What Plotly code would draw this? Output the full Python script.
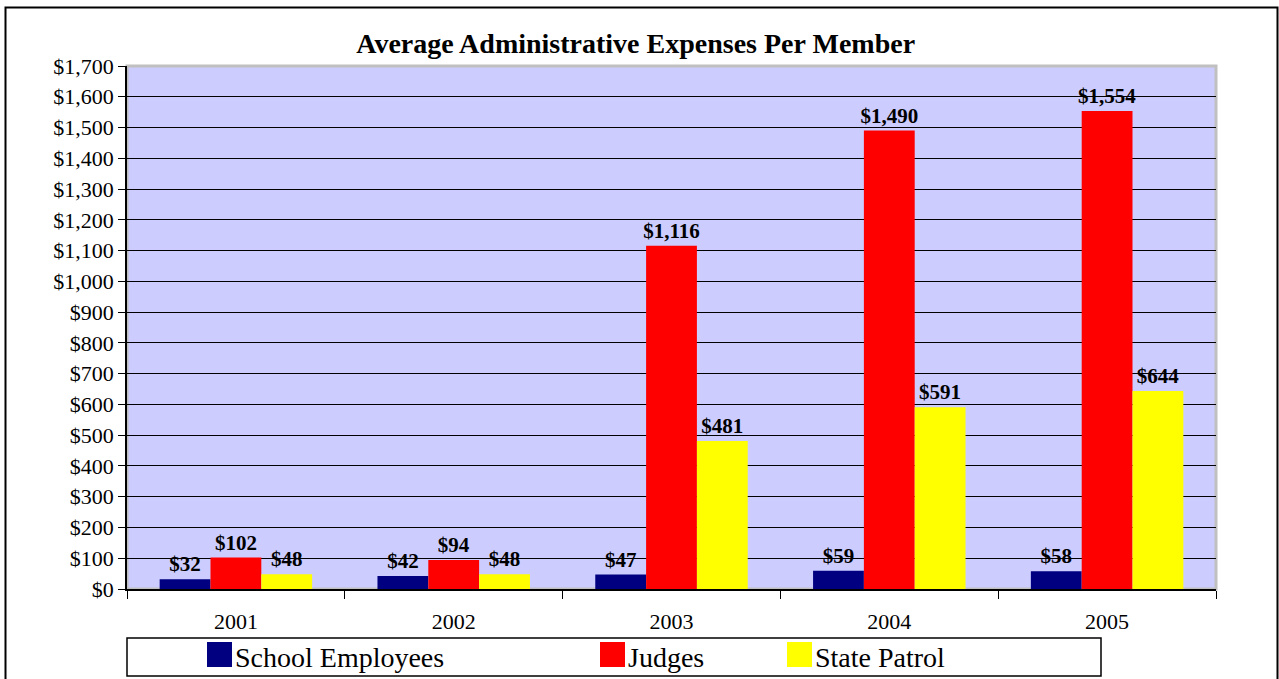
import plotly.graph_objects as go

years = ["2001", "2002", "2003", "2004", "2005"]
school_employees = [32, 42, 47, 59, 58]
judges = [102, 94, 1116, 1490, 1554]
state_patrol = [48, 48, 481, 591, 644]
series_names = ["School Employees", "Judges", "State Patrol"]
series_colors = ["#000080", "#FF0000", "#FFFF00"]

W, H = 1279, 679
L, R, T, B = 127, 1216, 66, 589
pw, ph = R - L, B - T


def px(x):
    return (x - L) / pw


def py(y):
    return (B - y) / ph


FONT = "Liberation Serif, Times New Roman, serif"

fig = go.Figure()
for name, vals, col in zip(series_names, [school_employees, judges, state_patrol], series_colors):
    fig.add_trace(go.Bar(
        x=years, y=vals, name=name,
        marker=dict(color=col, line=dict(width=0)),
        text=[f"${v:,}" for v in vals],
        textposition="outside",
        constraintext="none",
        textfont=dict(family=FONT, size=21, color="black", weight="bold"),
        cliponaxis=False,
        showlegend=False,
    ))

shapes = [
    # plot area border (grey)
    dict(type="rect", xref="paper", yref="paper", x0=0, x1=1, y0=0, y1=1,
         line=dict(color="#C0C0C0", width=3), layer="below"),
    # outer chart border
    dict(type="rect", xref="paper", yref="paper", x0=px(5.5), x1=px(1277.5), y0=py(7.5), y1=py(690),
         line=dict(color="black", width=2)),
    # legend box
    dict(type="rect", xref="paper", yref="paper", x0=px(127), x1=px(1101), y0=py(638), y1=py(676),
         line=dict(color="black", width=1.5), fillcolor="white"),
]
annotations = []
leg_x = [207, 600, 787]
for name, col, lx in zip(series_names, series_colors, leg_x):
    shapes.append(dict(type="rect", xref="paper", yref="paper", x0=px(lx), x1=px(lx + 25),
                       y0=py(642), y1=py(667), line=dict(width=0), fillcolor=col))
    annotations.append(dict(xref="paper", yref="paper", x=px(lx + 26), y=py(657),
                            text=name, showarrow=False, xanchor="left", yanchor="middle",
                            font=dict(family=FONT, size=28, color="black")))

fig.update_layout(
    width=W, height=H,
    margin=dict(l=L, r=W - R, t=T, b=H - B),
    paper_bgcolor="white", plot_bgcolor="#CCCCFF",
    barmode="group", bargap=0.3, bargroupgap=0,
    title=dict(text="<b>Average Administrative Expenses Per Member</b>",
               x=0.497, xref="container", xanchor="center", y=1 - 43 / H, yanchor="middle",
               font=dict(family=FONT, size=28, color="black")),
    font=dict(family=FONT, color="black"),
    shapes=shapes, annotations=annotations,
    xaxis=dict(showgrid=False, showline=True, linecolor="black", linewidth=1.5,
               ticks="outside", tickson="boundaries", ticklen=8, tickcolor="black",
               tickfont=dict(family=FONT, size=22, color="black"), ticklabelstandoff=12),
    yaxis=dict(range=[0, 1700], dtick=100, tickprefix="$", tickformat=",",
               showgrid=True, gridcolor="black", gridwidth=1,
               showline=True, linecolor="black", linewidth=1.5, zeroline=False,
               ticks="outside", ticklen=7, tickcolor="black",
               tickfont=dict(family=FONT, size=22, color="black")),
)

fig.write_html("out.html", config={"displayModeBar": False},
               post_script="document.body.style.margin='0';")
